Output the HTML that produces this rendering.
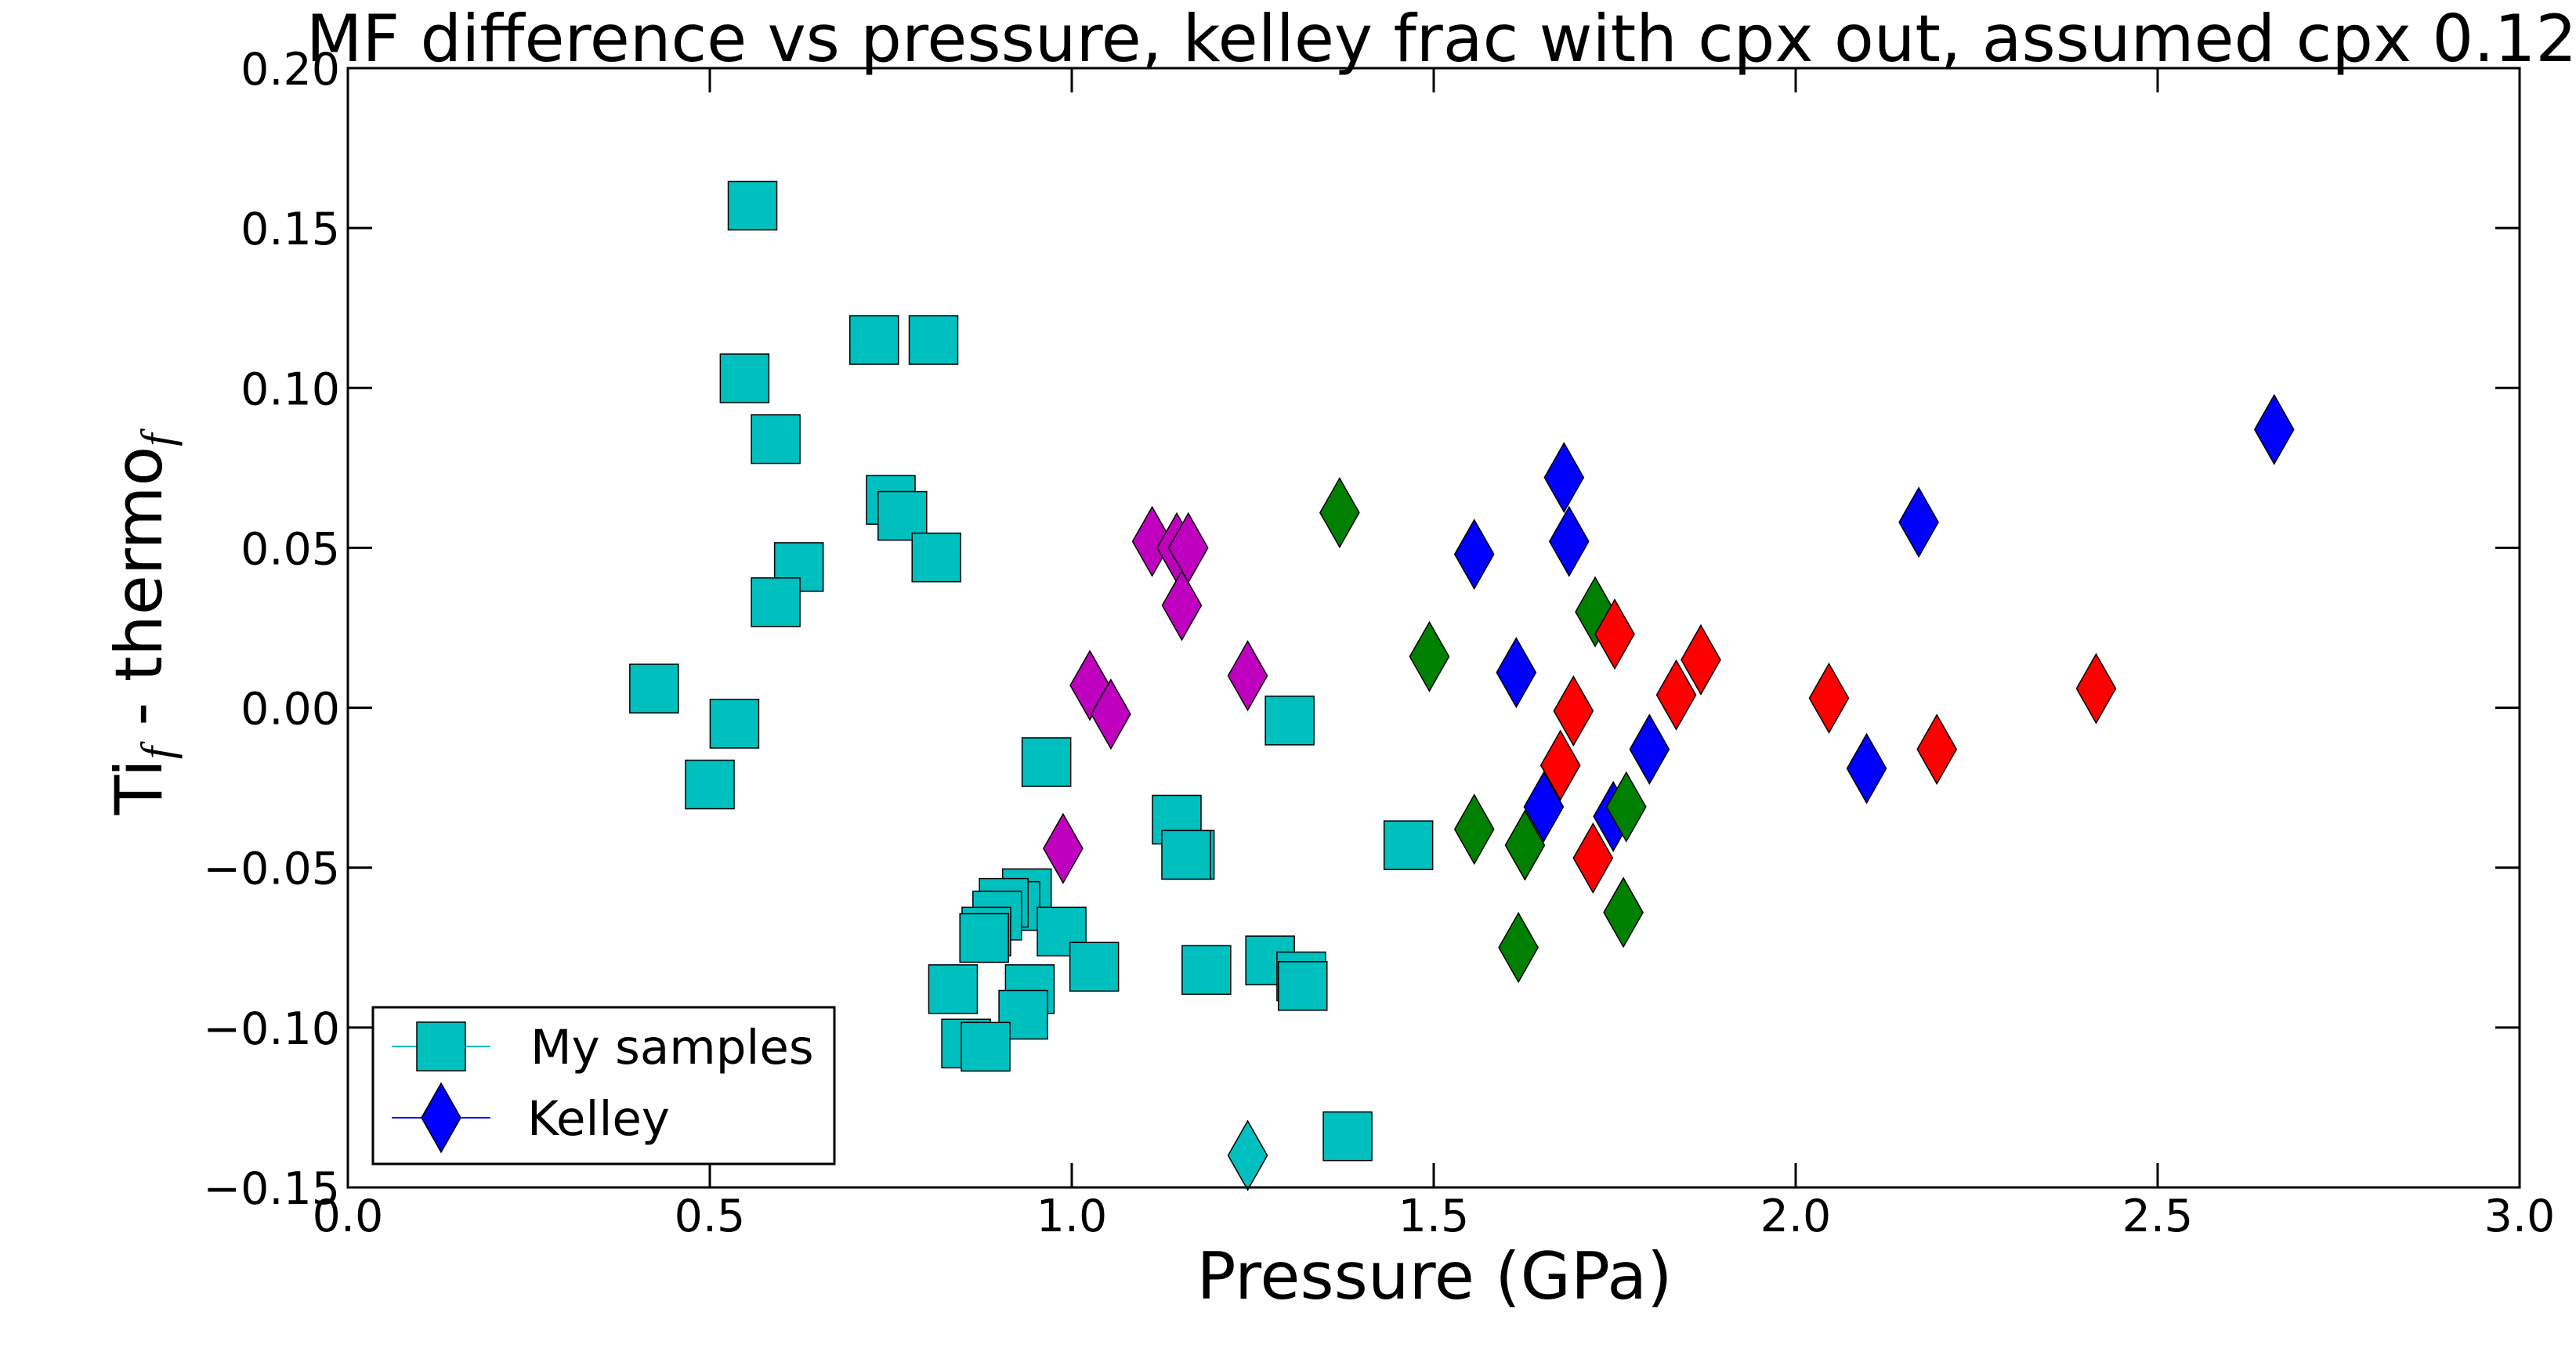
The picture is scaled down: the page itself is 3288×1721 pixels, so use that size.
<!DOCTYPE html>
<html><head><meta charset="utf-8"><style>
html,body{margin:0;padding:0;background:#fff;}
svg{display:block;font-family:"DejaVu Sans","Liberation Sans",sans-serif;}
</style></head><body>
<svg id="chart" width="3288" height="1721" viewBox="0 0 3288 1721"></svg>
<script>
const samplesX=[0.559,0.727,0.809,0.548,0.591,0.750,0.766,0.813,0.623,0.591,0.423,0.534,0.500,0.965,1.301,1.465,1.145,1.163,1.158,0.938,0.922,0.906,0.897,0.882,0.879,0.986,1.031,0.836,0.942,0.933,0.854,0.881,1.186,1.274,1.317,1.319,1.381];
const samplesY=[0.157,0.115,0.115,0.103,0.084,0.065,0.060,0.047,0.044,0.033,0.006,-0.005,-0.024,-0.017,-0.004,-0.043,-0.035,-0.046,-0.046,-0.058,-0.062,-0.061,-0.065,-0.070,-0.072,-0.070,-0.081,-0.088,-0.088,-0.096,-0.105,-0.106,-0.082,-0.079,-0.084,-0.087,-0.134];
const magentaX=[1.111,1.145,1.161,1.152,1.025,1.054,1.243,0.988];
const magentaY=[0.052,0.050,0.050,0.032,0.007,-0.002,0.010,-0.044];
const blueX=[1.556,1.680,1.687,1.614,1.798,1.652,1.748,2.098,2.170,2.661];
const blueY=[0.048,0.072,0.052,0.011,-0.013,-0.031,-0.034,-0.019,0.058,0.087];
const greenX=[1.370,1.494,1.723,1.556,1.626,1.617,1.766,1.762];
const greenY=[0.061,0.016,0.030,-0.038,-0.043,-0.075,-0.031,-0.064];
const redX=[1.750,1.693,1.675,1.720,1.835,1.869,2.046,2.195,2.415];
const redY=[0.023,-0.001,-0.018,-0.047,0.004,0.015,0.003,-0.013,0.006];
const cyanDX=[1.243];
const cyanDY=[-0.140];
const xTicks=[0.0,0.5,1.0,1.5,2.0,2.5,3.0];
const xTickLabels=["0.0","0.5","1.0","1.5","2.0","2.5","3.0"];
const yTicks=[0.20,0.15,0.10,0.05,0.00,-0.05,-0.10,-0.15];
const yTickLabels=["0.20","0.15","0.10","0.05","0.00","\u22120.05","\u22120.10","\u22120.15"];

const L=444,R=3216,T=87,B=1516;
const sx=v=>L+(v-0)/(3-0)*(R-L);
const sy=v=>B-(v+0.15)/(0.35)*(B-T);
const svg=document.getElementById('chart');
const NS='http://www.w3.org/2000/svg';
function mk(tag,attrs,parent){const e=document.createElementNS(NS,tag);for(const k in attrs)e.setAttribute(k,attrs[k]);(parent||svg).appendChild(e);return e;}

let t=mk('text',{x:1840,y:78,'font-size':83,'text-anchor':'middle',fill:'#000'});


t.textContent='MF difference vs pressure, kelley frac with cpx out, assumed cpx 0.12';

const gp=mk('g',{});


function square(x,y,c,name){const s=62;const e=mk('rect',{x:sx(x)-s/2,y:sy(y)-s/2,width:s,height:s,fill:c,stroke:'#000','stroke-width':1.5},gp);

}
function diamond(cx,cy,c,name,g){const w=25,h=44;const e=mk('polygon',{points:`${cx},${cy-h} ${cx+w},${cy} ${cx},${cy+h} ${cx-w},${cy}`,fill:c,stroke:'#000','stroke-width':1.5},g||gp);

}
samplesX.forEach((x,i)=>square(x,samplesY[i],'#00bfbf','my-sample-point'));
cyanDX.forEach((x,i)=>diamond(sx(x),sy(cyanDY[i]),'#00bfbf','cyan-kelley-point'));
magentaX.forEach((x,i)=>diamond(sx(x),sy(magentaY[i]),'#bf00bf','magenta-kelley-point'));
blueX.forEach((x,i)=>diamond(sx(x),sy(blueY[i]),'#0000ff','blue-kelley-point'));
greenX.forEach((x,i)=>diamond(sx(x),sy(greenY[i]),'#008000','green-kelley-point'));
redX.forEach((x,i)=>diamond(sx(x),sy(redY[i]),'#ff0000','red-kelley-point'));

let fr=mk('rect',{x:L,y:T,width:R-L,height:B-T,fill:'none',stroke:'#000','stroke-width':3});


xTicks.forEach((v,i)=>{const x=sx(v);
 mk('line',{x1:x,y1:B,x2:x,y2:B-31,stroke:'#000','stroke-width':3});
 mk('line',{x1:x,y1:T,x2:x,y2:T+31,stroke:'#000','stroke-width':3});
 const e=mk('text',{x:x,y:1572,'font-size':57,'text-anchor':'middle'});
 
 
 e.textContent=xTickLabels[i];});
yTicks.forEach((v,i)=>{const y=sy(v);
 mk('line',{x1:L,y1:y,x2:L+31,y2:y,stroke:'#000','stroke-width':3});
 mk('line',{x1:R,y1:y,x2:R-31,y2:y,stroke:'#000','stroke-width':3});
 const e=mk('text',{x:434,y:y+21,'font-size':57,'text-anchor':'end'});
 
 
 e.textContent=yTickLabels[i];});

let xl=mk('text',{x:1831,y:1658,'font-size':83,'text-anchor':'middle'});


xl.textContent='Pressure (GPa)';
let yl=mk('text',{x:0,y:0,'font-size':83,'text-anchor':'middle',transform:'translate(206,797) rotate(-90)'});


yl.innerHTML='Ti<tspan font-family="Liberation Serif,serif" font-style="italic" font-size="58" dy="14">f</tspan><tspan dy="-14"> - thermo</tspan><tspan font-family="Liberation Serif,serif" font-style="italic" font-size="58" dy="14">f</tspan>';

const lg=mk('g',{});


mk('rect',{x:476,y:1286,width:589,height:200,fill:'#fff',stroke:'#000','stroke-width':3},lg);
mk('line',{x1:500,y1:1336,x2:626,y2:1336,stroke:'#00bfbf','stroke-width':2},lg);
mk('rect',{x:532,y:1305,width:62,height:62,fill:'#00bfbf',stroke:'#000','stroke-width':1.5},lg);
mk('line',{x1:500,y1:1427,x2:626,y2:1427,stroke:'#0000ff','stroke-width':2},lg);
diamond(563,1427,'#0000ff','legend-kelley-marker',lg);
let l1=mk('text',{x:677,y:1358,'font-size':61},lg);


l1.textContent='My samples';
let l2=mk('text',{x:673,y:1449,'font-size':61},lg);


l2.textContent='Kelley';
</script>
</body></html>
